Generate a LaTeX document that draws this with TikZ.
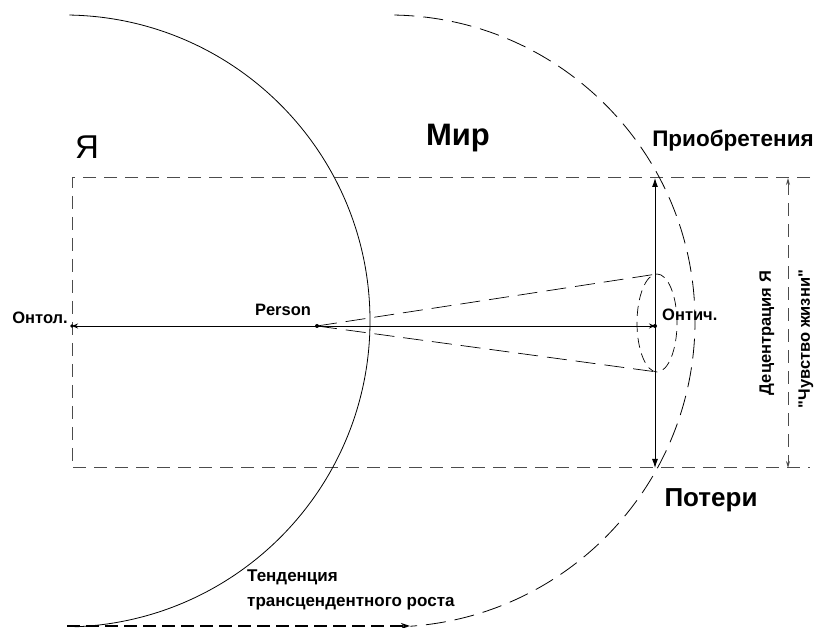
\documentclass[tikz,border=0pt]{standalone}
\usepackage{fontspec}
\setmainfont{Liberation Sans}[Ligatures=TeXOff]
\usetikzlibrary{arrows.meta}
\tikzset{
    frame line/.style={color=black!70, line width=1pt, dash pattern=on 13pt off 8pt},
    arc line/.style={line width=0.8pt, dash pattern=on 20pt off 9pt},
    cone line/.style={line width=0.7pt, dash pattern=on 20pt off 9pt},
    big label/.style={inner sep=0pt, font=\fontsize{33}{36}\selectfont},
    mid label/.style={inner sep=0pt, font=\bfseries\fontsize{26}{28}\selectfont},
    small label/.style={inner sep=0pt, font=\bfseries\fontsize{16.5}{25}\selectfont},
}

\begin{document}
\begin{tikzpicture}[x=1pt, y=1pt]
\useasboundingbox (0,0) rectangle (822,628);
\coordinate (tl) at (72,450);
\coordinate (tr) at (810,450);
\coordinate (bl) at (72,160);
\coordinate (br) at (810,160);
\coordinate (ontol) at (72,302);
\coordinate (person) at (317,302);
\coordinate (ontic) at (655,302);
\coordinate (gain) at (655,450);
\coordinate (loss) at (655,160);
\coordinate (decTop) at (788,450);
\coordinate (decBot) at (788,160);
\coordinate (ell) at (657,305);
\coordinate (ellTop) at (657,354);
\coordinate (ellBot) at (657,256);
\coordinate (selfC) at (64,307);
\coordinate (worldC) at (389,307);
\coordinate (growStart) at (67,2);
\coordinate (growEnd) at (410,2);

\draw[frame line] (tr) -- (tl) -- (bl) -- (br);
\draw[line width=0.8pt] (selfC) ++(89:306pt) arc[start angle=89, end angle=-88, radius=306pt];
\draw[arc line] (worldC) ++(89:306pt) arc[start angle=89, end angle=-86, radius=306pt];
\draw[line width=0.9pt, {Latex[length=9pt,width=6pt]}-{Latex[length=9pt,width=6pt]}] (gain) -- (loss);
\draw[line width=0.9pt, {Stealth[length=6pt,width=5pt]}-{Stealth[length=6pt,width=5pt]}] (ontol) -- (ontic);
\draw[frame line, {Stealth[length=7pt,width=4pt]}-{Stealth[length=7pt,width=4pt]}] (decTop) -- (decBot);
\draw[cone line] (person) -- (ellTop);
\draw[cone line] (person) -- (ellBot);
\draw[line width=0.7pt, dash pattern=on 10pt off 6pt] (ell) ellipse (20pt and 49pt);
\draw[line width=1.6pt, dash pattern=on 13pt off 6pt, -{Stealth[length=9pt,width=6pt]}] (growStart) -- (growEnd);
\fill (ontol) circle (1.8pt);
\fill (person) circle (2pt);
\fill (ontic) circle (2pt);

\node[big label] (selfLabel) at (87,481) {Я};
\node[big label, font=\bfseries\fontsize{31}{34}\selectfont] (worldLabel) at (458,490) {Мир};
\node[mid label, font=\bfseries\fontsize{22.5}{26}\selectfont] (gainLabel) at (733,487) {Приобретения};
\node[mid label] (lossLabel) at (711,128) {Потери};
\node[small label] (personLabel) at (283,318) {Person};
\node[small label, anchor=east] (ontolLabel) at (68,310) {Онтол.};
\node[small label, anchor=west] (onticLabel) at (662,313) {Онтич.};
\node[small label, rotate=90] (decentLabel) at (767,295) {Децентрация Я};
\node[small label, rotate=90] (lifeLabel) at (806,289) {"Чувство жизни"};
\node[small label, font=\bfseries\fontsize{17}{25}\selectfont, anchor=north west, align=left] (growLabel) at (247,58) {Тенденция\\трансцендентного роста};
\end{tikzpicture}
\end{document}
